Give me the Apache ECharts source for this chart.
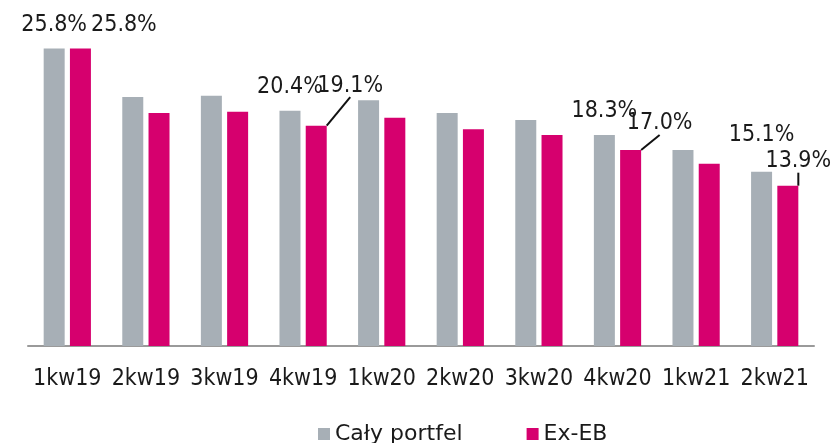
<!DOCTYPE html>
<html>
<head>
<meta charset="utf-8">
<script src="https://cdn.jsdelivr.net/npm/echarts@6/dist/echarts.min.js"></script>
<style>
html,body{margin:0;padding:0;background:#fff;}
#chart{width:831px;height:443px;}
</style>
</head>
<body>
<div id="chart"></div>
<script>
const categories = ['1kw19','2kw19','3kw19','4kw19','1kw20','2kw20','3kw20','4kw20','1kw21','2kw21'];
const calyPortfel = [25.8, 21.6, 21.7, 20.4, 21.3, 20.2, 19.6, 18.3, 17.0, 15.1];
const exEB = [25.8, 20.2, 20.3, 19.1, 19.8, 18.8, 18.3, 17.0, 15.8, 13.9];
const labelledIndices = [0, 3, 7, 9];
const leaderIndicesExEB = [3, 7, 9];

const FONT = '"DejaVu Sans Condensed", "Liberation Sans Narrow", "DejaVu Sans", sans-serif';
const LEGEND_FONT = '"DejaVu Sans", sans-serif';

// label placement relative to bar top-centre: [dx, distance above top]
const labelPlace = {
  '0-0': [0, 23.5], '1-0': [43.5, 23.5],
  '0-3': [0, 24],   '1-3': [34, 40],
  '0-7': [0, 24],   '1-7': [29, 26.5],
  '0-9': [0, 37],   '1-9': [10.5, 24.5]
};

function buildData(values, seriesIdx) {
  return values.map((v, i) => ({
    value: v,
    label: { show: labelledIndices.includes(i) },
    labelLine: { show: seriesIdx === 1 && leaderIndicesExEB.includes(i) }
  }));
}

const chart = echarts.init(document.getElementById('chart'));
const labelStyle = {
  position: 'top',
  formatter: p => p.value.toFixed(1) + '%',
  fontFamily: FONT,
  fontSize: 23,
  color: '#1a1a1a'
};

chart.setOption({
  animation: false,
  backgroundColor: '#ffffff',
  grid: { left: 28, right: 17, top: 0, bottom: 97, containLabel: false },
  legend: {
    left: 313,
    top: 418,
    itemWidth: 12,
    itemHeight: 12,
    itemGap: 64,
    icon: 'rect',
    textStyle: { fontFamily: LEGEND_FONT, fontSize: 22, color: '#1a1a1a' },
    data: ['Cały portfel', 'Ex-EB']
  },
  xAxis: {
    type: 'category',
    data: categories,
    axisLine: { show: true, lineStyle: { color: '#9a9a9a', width: 2 } },
    axisTick: { show: false },
    axisLabel: { fontFamily: FONT, fontSize: 23, color: '#1a1a1a', margin: 22, interval: 0 }
  },
  yAxis: {
    type: 'value',
    min: 0,
    max: 30,
    show: false,
    splitLine: { show: false }
  },
  labelLayout: function (params) {
    const key = params.seriesIndex + '-' + params.dataIndex;
    const pl = labelPlace[key];
    if (!pl) return {};
    const r = params.rect;
    return {
      x: r.x + r.width / 2 + pl[0],
      y: r.y - pl[1],
      align: 'center',
      verticalAlign: 'middle'
    };
  },
  series: [
    {
      name: 'Cały portfel',
      type: 'bar',
      data: buildData(calyPortfel, 0),
      barWidth: 21,
      barGap: '25%',
      itemStyle: { color: '#a7afb6' },
      label: labelStyle,
      labelLine: { show: false, lineStyle: { color: '#111', width: 2 } }
    },
    {
      name: 'Ex-EB',
      type: 'bar',
      data: buildData(exEB, 1),
      barWidth: 21,
      barGap: '25%',
      itemStyle: { color: '#d6006e' },
      label: labelStyle,
      labelLine: { show: true, lineStyle: { color: '#111', width: 2 } }
    }
  ]
});
</script>
</body>
</html>
